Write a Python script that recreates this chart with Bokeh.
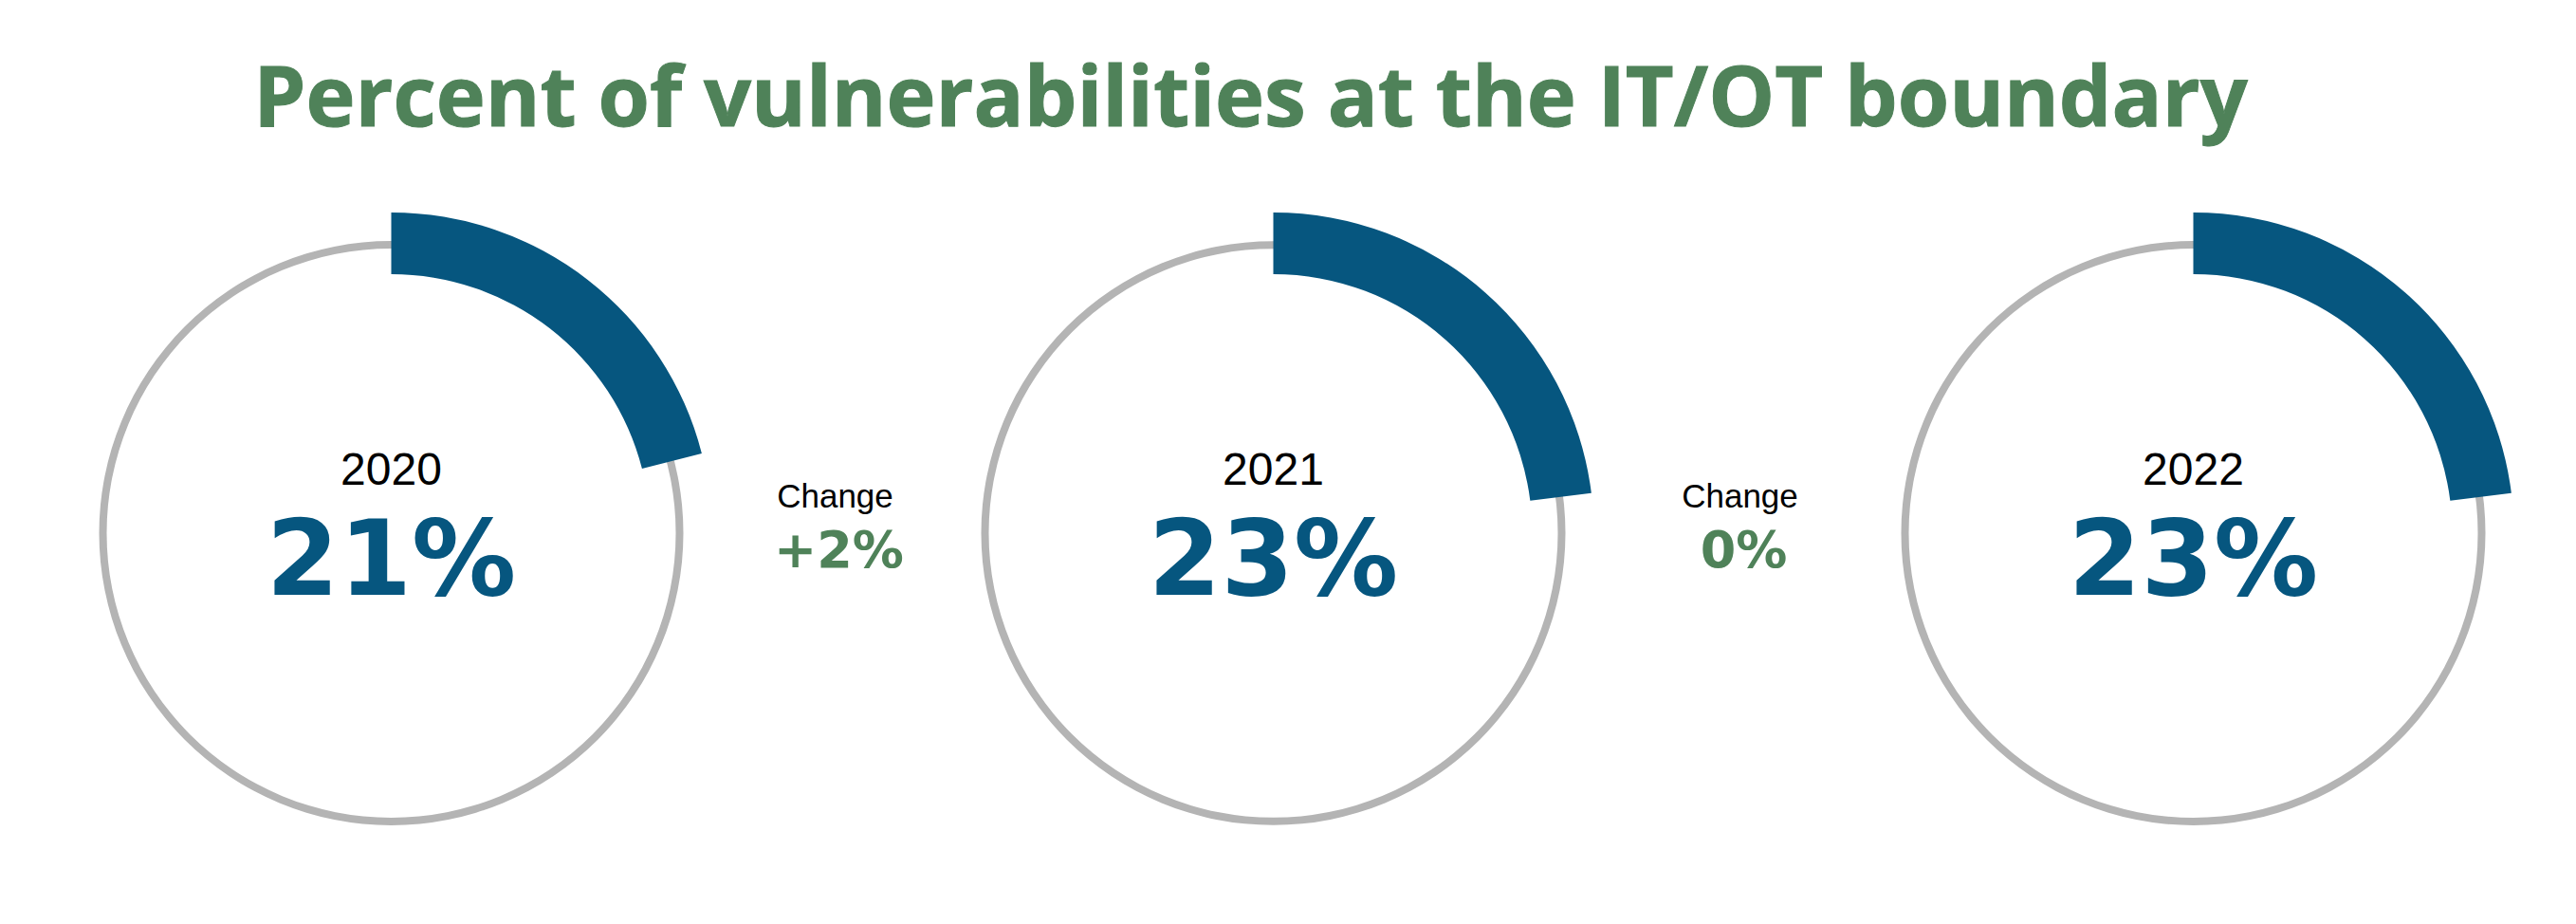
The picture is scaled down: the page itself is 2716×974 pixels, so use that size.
from bokeh.plotting import figure
from bokeh.models import Range1d
from bokeh.embed import file_html
from bokeh.resources import INLINE
from bokeh.core.properties import value
import math

# ---- data ----
years = ["2020", "2021", "2022"]
percents = [21, 23, 23]
change_labels = ["Change", "Change"]
change_values = ["+2%", "0%"]
title_text = "Percent of vulnerabilities at the IT/OT boundary"

# ---- layout ----
W, H = 2700, 958
centers_x = [412, 1342, 2312]
center_y = 396.5
change_x = [880, 1834]

BLUE = "#06567f"
GREEN = "#4f8259"
GREY = "#b4b4b4"

p = figure(width=W, height=H, output_backend="svg", toolbar_location=None,
           x_range=Range1d(0, W), y_range=Range1d(0, H),
           min_border=0, outline_line_color=None)
p.axis.visible = False
p.grid.visible = False
p.background_fill_color = "white"
p.border_fill_color = "white"

ys = [center_y] * len(years)
# grey full ring
p.annulus(x=centers_x, y=ys, inner_radius=300, outer_radius=308,
          fill_color=GREY, line_color=None)
# blue arc, clockwise from top
starts = [math.pi / 2 - 2 * math.pi * v / 100 for v in percents]
ends = [math.pi / 2] * len(percents)
p.annular_wedge(x=centers_x, y=ys, inner_radius=273, outer_radius=338,
                start_angle=starts, end_angle=ends, direction="anticlock",
                fill_color=BLUE, line_color=None)

# year labels
p.text(x=centers_x, y=[464] * 3, text=years, text_align="center",
       text_baseline="alphabetic", text_font=value("Liberation Sans"),
       text_font_size="48px", text_color="black")
p.text(x=centers_x, y=[370] * 3, text=[f"{v}%" for v in percents],
       text_align="center", text_baseline="alphabetic",
       text_font=value("DejaVu Sans"), text_font_style="bold",
       text_font_size="110px", text_color=BLUE)

# change labels
p.text(x=change_x, y=[436] * 2, text=change_labels, text_align="center",
       text_baseline="alphabetic", text_font=value("Liberation Sans"),
       text_font_size="35px", text_color="black")
p.text(x=[c + 4 for c in change_x], y=[379] * 2, text=change_values,
       text_align="center", text_baseline="alphabetic",
       text_font=value("DejaVu Sans"), text_font_style="bold",
       text_font_size="54px", text_color=GREEN)

# title
p.text(x=[1318], y=[860], text=[title_text], text_align="center",
       text_baseline="alphabetic", text_font=value("Open Sans"),
       text_font_style="bold", text_font_size="88px", text_color=GREEN,
       text_outline_color=GREEN)

open("out.html", "w").write(file_html(p, INLINE))
